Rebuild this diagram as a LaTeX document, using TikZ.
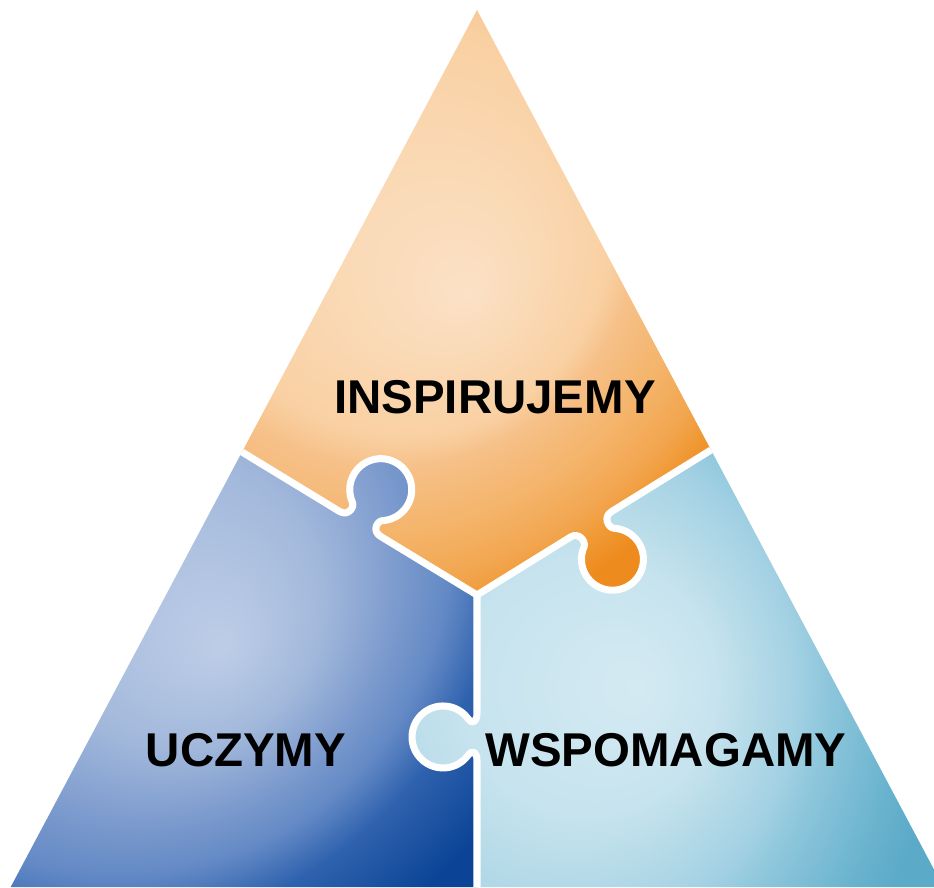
\documentclass[tikz,border=0pt]{standalone}
\usepackage{fontspec}
\usepackage{tikz}
\newfontfamily\piecefont{Liberation Sans}

\definecolor{or0}{HTML}{FBE1C6}
\definecolor{or1}{HTML}{F9D0A2}
\definecolor{or2}{HTML}{F6C088}
\definecolor{or3}{HTML}{F4B46A}
\definecolor{or4}{HTML}{F2A54E}
\definecolor{or5}{HTML}{F09A36}
\definecolor{or6}{HTML}{EE8B1E}
\definecolor{or7}{HTML}{EC861A}
\definecolor{bl0}{HTML}{BDCDE7}
\definecolor{bl1}{HTML}{A2B8DB}
\definecolor{bl2}{HTML}{7E9CCE}
\definecolor{bl3}{HTML}{6389C5}
\definecolor{bl4}{HTML}{2F62AE}
\definecolor{bl5}{HTML}{0B4496}
\definecolor{bl6}{HTML}{0A4094}
\definecolor{lb0}{HTML}{D4EAF2}
\definecolor{lb1}{HTML}{C6E3EE}
\definecolor{lb2}{HTML}{B5DAE8}
\definecolor{lb3}{HTML}{A3D1E3}
\definecolor{lb4}{HTML}{8FC7DC}
\definecolor{lb5}{HTML}{6AB3CE}
\definecolor{lb6}{HTML}{5AAAC8}
\definecolor{lb7}{HTML}{55A7C6}

% glow spot shifted off the centre, so the colour darkens towards one side
\pgfdeclareradialshading{orangeglow}{\pgfpoint{15.9bp}{-15.9bp}}{color(0bp)=(or0); color(2.6bp)=(or1); color(3.15bp)=(or2); color(4.4bp)=(or3); color(5.5bp)=(or4); color(6bp)=(or5); color(6.7bp)=(or6); color(50bp)=(or7)}
\pgfdeclareradialshading{blueglow}{\pgfpoint{15.9bp}{-15.9bp}}{color(0bp)=(bl0); color(1.8bp)=(bl1); color(3.1bp)=(bl2); color(4.15bp)=(bl3); color(5.2bp)=(bl4); color(7.1bp)=(bl5); color(50bp)=(bl6)}
\pgfdeclareradialshading{skyglow}{\pgfpoint{20bp}{0bp}}{color(0bp)=(lb0); color(1.6bp)=(lb1); color(2.4bp)=(lb2); color(3.25bp)=(lb3); color(3.85bp)=(lb4); color(5.35bp)=(lb5); color(6.2bp)=(lb6); color(50bp)=(lb7)}

\tikzstyle{divider} = [draw=white,line width=4pt,line join=round]
\tikzstyle{piecetext} = [font=\piecefont\bfseries\fontsize{27}{32}\selectfont,text=black,inner sep=0]
\def \knob {0.62cm}

% tab on a divider: #1 angle from the centre, #2 distance along, #3 offset of the knob
\newcommand{\pieceout}[3]{{[shift={(ctr)},rotate=#1] -- ({#2-24},0) .. controls ({#2-14},0) and ({#2-12.9},{28.8-#3}) .. ({#2-17.8},{25.4-#3}) arc[start angle=125,end angle=415,radius=\knob] .. controls ({#2+12.9},{28.8-#3}) and ({#2+14},0) .. ({#2+24},0)}}
\newcommand{\piecein}[3]{{[shift={(ctr)},rotate=#1] -- ({#2+24},0) .. controls ({#2+14},0) and ({#2+12.9},{28.8-#3}) .. ({#2+17.8},{25.4-#3}) arc[start angle=55,end angle=-235,radius=\knob] .. controls ({#2-12.9},{28.8-#3}) and ({#2-14},0) .. ({#2-24},0)}}

\begin{document}
\begin{tikzpicture}[x=0.02cm,y=0.02cm]
  \useasboundingbox (0,0) rectangle (934,887);
  \clip (0,0) rectangle (934,887);
  \coordinate (apex) at (477,877);
  \coordinate (ctr) at (477,292);
  \coordinate (lft) at (242,435);
  \coordinate (rgt) at (711,437);
  \coordinate (bot) at (477,0);
  \coordinate (blc) at (10.7,0);
  \coordinate (brc) at (943.3,0);

  % orange piece
  \begin{scope}
    \clip (lft) \piecein{148.7}{137}{40} -- (ctr) \pieceout{31.8}{134}{41} -- (rgt) -- (apex) -- cycle;
    \shade[shading=orangeglow] (-2803,-137) rectangle (1197,3863);
  \end{scope}
  % blue piece
  \begin{scope}
    \clip (lft) \piecein{148.7}{137}{40} -- (ctr) \pieceout{-90}{142}{34} -- (bot) -- (blc) -- cycle;
    \shade[shading=blueglow] (-3048,-490) rectangle (952,3510);
  \end{scope}
  % light blue piece
  \begin{scope}
    \clip (ctr) \pieceout{31.8}{134}{41} -- (rgt) -- (brc) -- (bot) \piecein{-90}{142}{34} -- (ctr) -- cycle;
    \shade[shading=skyglow] (-2960,-1800) rectangle (1040,2200);
  \end{scope}

  \draw[divider] (ctr) \pieceout{148.7}{137}{40} -- (lft);
  \draw[divider] (ctr) \pieceout{31.8}{134}{41} -- (rgt);
  \draw[divider] (ctr) \pieceout{-90}{142}{34} -- (bot);

  \node[piecetext] (insp) at (495,490) {INSPIRUJEMY};
  \node[piecetext] (ucz) at (246,137) {UCZYMY};
  \node[piecetext] (wsp) at (666,137) {WSPOMAGAMY};
\end{tikzpicture}
\end{document}
